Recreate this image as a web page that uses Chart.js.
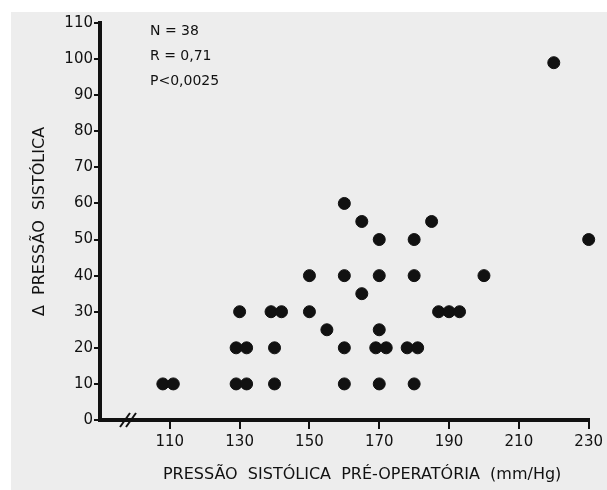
<!DOCTYPE html>
<html lang="pt">
<head>
  <meta charset="UTF-8">
  <title>Δ Pressão sistólica x pressão pré-operatória</title>
  <style>
    body{margin:0;background:#fff}
    #wrap{position:relative;width:607px;height:490px}
  </style>
  <script src="https://cdn.jsdelivr.net/npm/chart.js"></script>
</head>
<body>
  <div id="wrap"><canvas id="scatter"></canvas></div>
  <script>
    // pressão sistólica pré-operatória (mm/Hg) and Δ pressão sistólica, one entry per patient
    const preOp  = [108,111,129,132,140,160,170,180,
                    129,132,140,160,169,172,178,181,
                    155,170,
                    130,139,142,150,187,190,193,
                    165,
                    150,160,170,180,200,
                    170,180,230,
                    165,185,
                    160,
                    220];
    const deltaP = [10,10,10,10,10,10,10,10,
                    20,20,20,20,20,20,20,20,
                    25,25,
                    30,30,30,30,30,30,30,
                    35,
                    40,40,40,40,40,
                    50,50,50,
                    55,55,
                    60,
                    99];
    const xTicks = [110,130,150,170,190,210,230];
    const yTicks = [0,10,20,30,40,50,60,70,80,90,100,110];
    const stats  = ['N = 38','R = 0,71','P<0,0025'];

    const ink = '#111';
    const font = 'DejaVu Sans';

    const paper = {
      id:'paper',
      beforeDraw(chart){
        const ctx = chart.ctx;
        ctx.save();
        ctx.fillStyle = '#ededed';
        ctx.fillRect(11, 12, chart.width - 11, chart.height - 12);
        ctx.restore();
      },
      afterDraw(chart){
        const {ctx, chartArea:a} = chart;
        ctx.save();
        // statistics
        ctx.fillStyle = ink;
        ctx.font = '14px "' + font + '"';
        ctx.textBaseline = 'middle';
        stats.forEach((s,i) => ctx.fillText(s, a.left + 50, 31 + i * 25));
        // axis break
        ctx.strokeStyle = ink;
        ctx.lineWidth = 2;
        [25, 31].forEach(dx => {
          ctx.beginPath();
          ctx.moveTo(a.left + dx - 5, a.bottom + 7);
          ctx.lineTo(a.left + dx + 5, a.bottom - 7);
          ctx.stroke();
        });
        ctx.restore();
      }
    };

    new Chart(document.getElementById('scatter'), {
      type:'scatter',
      data:{
        datasets:[{
          data: preOp.map((x,i) => ({x, y: deltaP[i]})),
          backgroundColor: ink,
          borderColor: ink,
          pointRadius: 6,
          pointHoverRadius: 6,
          clip: false
        }]
      },
      options:{
        responsive:true,
        maintainAspectRatio:false,
        animation:false,
        layout:{ padding:{ top:23, right:17, left:0, bottom:0 } },
        plugins:{ legend:{display:false}, tooltip:{enabled:false} },
        scales:{
          x:{
            type:'linear', min:90, max:230,
            afterBuildTicks: s => { s.ticks = xTicks.map(v => ({value:v})); },
            afterFit: s => { s.height = 70; },
            grid:{ drawOnChartArea:false, drawTicks:true, tickLength:9, lineWidth:2, color:ink },
            border:{ display:true, width:4, color:ink },
            ticks:{ color:ink, font:{family:font, size:15}, padding:4, maxRotation:0 },
            title:{ display:true, text:'       PRESSÃO  SISTÓLICA  PRÉ-OPERATÓRIA  (mm/Hg)', color:ink,
                    font:{family:font, size:16}, padding:{top:0, bottom:6} }
          },
          y:{
            min:0, max:110,
            afterBuildTicks: s => { s.ticks = yTicks.map(v => ({value:v})); },
            afterFit: s => { s.width = 100; },
            grid:{ drawOnChartArea:false, drawTicks:true, tickLength:6, lineWidth:2, color:ink },
            border:{ display:true, width:4, color:ink },
            ticks:{ color:ink, font:{family:font, size:15}, padding:1 },
            title:{ display:true, text:'Δ  PRESSÃO  SISTÓLICA', color:ink,
                    font:{family:font, size:16}, padding:{top:30, bottom:0} }
          }
        }
      },
      plugins:[paper]
    });
  </script>
</body>
</html>
